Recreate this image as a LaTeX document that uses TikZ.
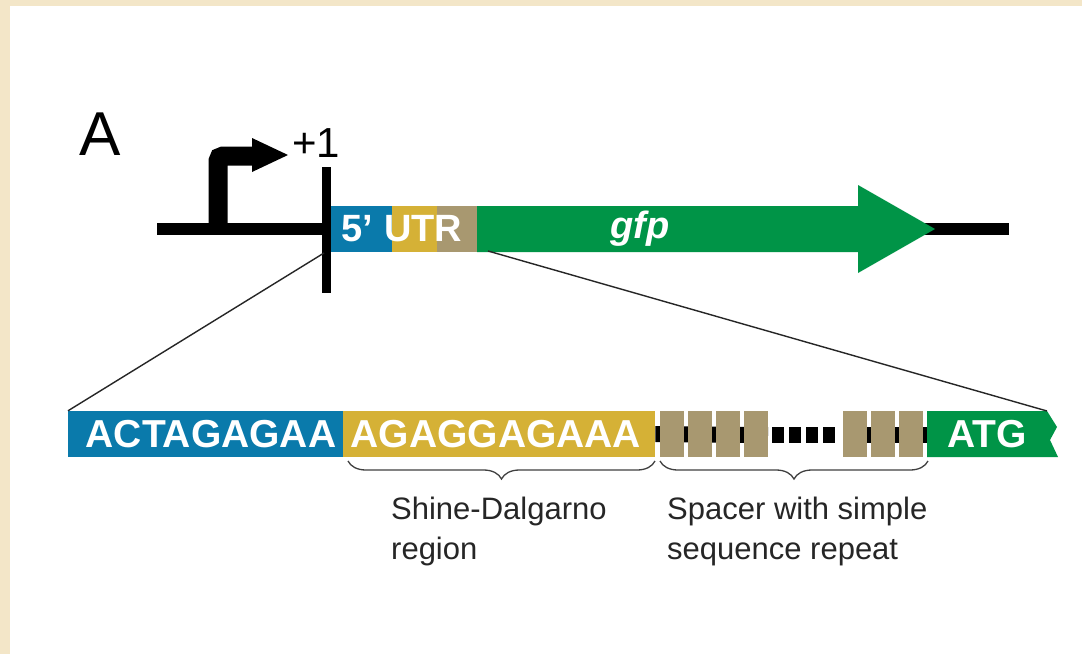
\documentclass[tikz,border=0pt]{standalone}
\usepackage{fontspec}
\setmainfont{Liberation Sans}
\usetikzlibrary{decorations.pathreplacing}
\definecolor{cblue}{HTML}{0A7AAB}
\definecolor{cyel}{HTML}{D5B136}
\definecolor{ctan}{HTML}{A89870}
\definecolor{cgreen}{HTML}{009447}
\definecolor{cbeige}{HTML}{F3E6C8}
\begin{document}
\begin{tikzpicture}[x=1pt,y=-1pt,
  topseg/.style={draw=none,inner sep=0,minimum height=46,anchor=west},
  botseg/.style={draw=none,inner sep=0,minimum height=46,anchor=west},
  repbox/.style={botseg,fill=ctan,minimum width=24},
  seqtext/.style={text=white,font=\fontsize{39}{39}\selectfont\bfseries,inner sep=0},
  lbl/.style={font=\fontsize{31}{40}\selectfont,align=left,inner sep=0,anchor=north west,text=black!85},
  zoomline/.style={line width=1.4,black!85},
  bracestyle/.style={decorate,decoration={brace,mirror,amplitude=18},line width=1.3,black!75}
]
\useasboundingbox (0,0) rectangle (1082,654);
\fill[cbeige] (0,0) rectangle (1082,654);
\fill[white] (10,6) rectangle (1082,654);

% panel letter
\node[font=\fontsize{62}{62}\selectfont,inner sep=0] (lettA) at (100,134) {A};

% backbone
\coordinate (bbL) at (157,229);
\coordinate (bbR) at (1009,229);
\coordinate (bbM) at (900,229);
\draw[line width=12] (bbM) -- (bbR);

% 5' UTR segments
\node[topseg,fill=cblue,minimum width=64] (u1) at (328,229) {};
\node[topseg,fill=cyel,minimum width=45] (u2) at (392,229) {};
\node[topseg,fill=ctan,minimum width=40] (u3) at (437,229) {};
\draw[line width=12] (bbL) -- (u1.west);
\node[text=white,font=\fontsize{38}{38}\selectfont\bfseries,inner sep=0] (utr) at (402,229) {5’ UTR};

% gfp arrow
\fill[cgreen] (477,206) -- (858,206) -- (858,185) -- (935,229) -- (858,273) -- (858,252) -- (477,252) -- cycle;
\node[text=white,font=\fontsize{38}{38}\selectfont\bfseries\itshape,inner sep=0] (gfp) at (640,229) {gfp};

% promoter arrow
\coordinate (pS) at (218,229);
\coordinate (pC) at (218,156);
\coordinate (pE) at (256,156);
\draw[line width=19,rounded corners=5] (pS) -- (pC) -- (pE);
\fill (252,138) -- (288,155) -- (252,172) -- cycle;
\node[font=\fontsize{42}{42}\selectfont,inner sep=0] (plus) at (316,143) {+1};

% +1 tick
\coordinate (tkT) at (326,167);
\coordinate (tkB) at (326,293);
\draw[line width=9] (tkT) -- (tkB);

% bottom sequence
\node[botseg,fill=cblue,minimum width=275] (s1) at (68,434) {};
\node[botseg,fill=cyel,minimum width=312] (s2) at (343,434) {};
\draw[line width=16] (s2.east) -- (768,435);
\draw[line width=16] (843,435) -- (927,435);
\draw[line width=16,dash pattern=on 12 off 5] (772,435) -- (837,435);
\node[repbox] (r1) at (660,434) {};
\node[repbox] (r2) at (688,434) {};
\node[repbox] (r3) at (716,434) {};
\node[repbox] (r4) at (744,434) {};
\node[repbox] (r5) at (843,434) {};
\node[repbox] (r6) at (871,434) {};
\node[repbox] (r7) at (899,434) {};
\fill[cgreen] (927,411) -- (1047,411) -- (1057,427) -- (1050,440) -- (1058,457) -- (927,457) -- cycle;
\coordinate (atgTR) at (1047,411);
\node[seqtext] (t1) at (211,434) {ACTAGAGAA};
\node[seqtext] (t2) at (496,434) {AGAGGAGAAA};
\node[seqtext] (t3) at (987,434) {ATG};

% zoom lines
\coordinate (zl) at (324,253);
\coordinate (zr) at (488,251);
\draw[zoomline] (zl) -- (s1.north west);
\draw[zoomline] (zr) -- (atgTR);

% braces
\draw[bracestyle] (348,461) -- (655,461);
\draw[bracestyle] (660,461) -- (928,461);

% labels
\node[lbl] (sd) at (391,497) {Shine-Dalgarno\\region};
\node[lbl] (sp) at (667,497) {Spacer with simple\\sequence repeat};
\end{tikzpicture}
\end{document}
